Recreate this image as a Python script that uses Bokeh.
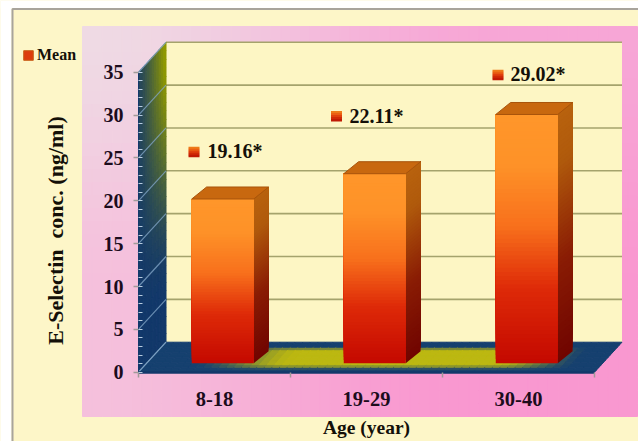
from bokeh.embed import file_html
from bokeh.resources import INLINE
from bokeh.plotting import figure
from bokeh.models import (ColumnDataSource, FixedTicker, Legend, LegendItem, LinearAxis,
                          Range1d)
from bokeh.core.properties import value
import math

# Chart values
age_groups = ["8-18", "19-29", "30-40"]
mean_values = [19.16, 22.11, 29.02]
value_labels = ["19.16*", "22.11*", "29.02*"]
y_ticks = [0, 5, 10, 15, 20, 25, 30, 35]
y_title = "E-Selectin\u00a0\u00a0conc. (ng/ml)"
x_title = "Age (year)"
legend_label = "Mean"

# Layout: pixels per unit, origin of the axes, 3D depth of the box
W, H = 638, 441
CAT_PX, VAL_PX = 152.0, 8.57
X0_PX, Y0_PX = 138.0, 371.7
DX = 27.5 / CAT_PX       # full box depth in category units
DY = 30.0 / VAL_PX       # full box depth in value units
Y_MAX = 35
BAR_W = 62 / CAT_PX
BAR_FRONT, BAR_BACK = 0.3, 0.7   # bar depth within the box

SERIF = "Liberation Serif"

p = figure(width=W, height=H, output_backend="svg", toolbar_location=None,
           x_range=Range1d(-X0_PX / CAT_PX, (W - X0_PX) / CAT_PX),
           y_range=Range1d((Y0_PX - H) / VAL_PX, Y0_PX / VAL_PX),
           min_border=0, min_border_left=0, min_border_right=0,
           min_border_top=0, min_border_bottom=0,
           background_fill_color="#fdf6c8", outline_line_color=None)
p.grid.visible = False
p.extra_x_ranges["px"] = Range1d(0, W)
p.extra_y_ranges["px"] = Range1d(H, 0)


def hex2rgb(c):
    return tuple(int(c[i:i + 2], 16) for i in (1, 3, 5))


def mix(a, b, t):
    t = max(0.0, min(1.0, t))
    ra, rb = hex2rgb(a), hex2rgb(b)
    return "#%02x%02x%02x" % tuple(round(ra[i] + (rb[i] - ra[i]) * t) for i in range(3))


def ramp(stops, t):
    for (t0, c0), (t1, c1) in zip(stops, stops[1:]):
        if t <= t1:
            return mix(c0, c1, (t - t0) / (t1 - t0))
    return stops[-1][1]


def smooth(a, b, t):
    s = max(0.0, min(1.0, (t - a) / (b - a)))
    return s * s * (3 - 2 * s)


def cells(xs, ys, colors):
    p.patches(xs, ys, fill_color=colors, line_color=colors, line_width=1)


# White page edge and grey frame
p.quad(left=[0, 0], right=[11, W], top=[0, 0], bottom=[H, 8], x_range_name="px", y_range_name="px",
       fill_color="white", line_color=None)
p.line([12, 12, W], [H, 8.5, 8.5], x_range_name="px", y_range_name="px", line_color="#a8a49c", line_width=2)

# Pink panel behind the plot
PANEL = (82, 637, 26, 416)
lefts, rights, tops, bottoms, fills = [], [], [], [], []
NX, NY = 56, 30
for i in range(NX):
    for j in range(NY):
        u, v = (i + .5) / NX, (j + .5) / NY
        top_c = mix("#efdae4", "#f7a6d6", smooth(0, .75, u))
        bot_c = mix("#f5c0dc", "#f998d0", smooth(0, .7, u))
        fills.append(mix(top_c, bot_c, smooth(0, .7, v)))
        lefts.append(PANEL[0] + (PANEL[1] - PANEL[0]) * i / NX)
        rights.append(PANEL[0] + (PANEL[1] - PANEL[0]) * (i + 1) / NX)
        tops.append(PANEL[2] + (PANEL[3] - PANEL[2]) * j / NY)
        bottoms.append(PANEL[2] + (PANEL[3] - PANEL[2]) * (j + 1) / NY)
p.quad(left=lefts, right=rights, top=tops, bottom=bottoms, x_range_name="px", y_range_name="px",
       fill_color=fills, line_color=fills, line_width=1)

n_cat = len(age_groups)

# Back wall of the box with its gridlines
p.quad(left=[DX], right=[n_cat + DX], bottom=[DY], top=[Y_MAX + DY], fill_color="#fdf6c4", line_color=None)
grid_vals = [t for t in y_ticks if t > 0]
p.segment([DX] * len(grid_vals), [t + DY for t in grid_vals], [n_cat + DX] * len(grid_vals),
          [t + DY for t in grid_vals], line_color="#a5a36c", line_width=1.6)

# Left wall
xs, ys, cs = [], [], []
NU, NV = 12, 35
for i in range(NU):
    for j in range(NV):
        u0, u1 = i / NU, (i + 1) / NU
        v0, v1 = Y_MAX * j / NV, Y_MAX * (j + 1) / NV
        xs.append([u0 * DX, u1 * DX, u1 * DX, u0 * DX])
        ys.append([v0 + u0 * DY, v0 + u1 * DY, v1 + u1 * DY, v1 + u0 * DY])
        um, vm = (u0 + u1) / 2, (v0 + v1) / 2 / Y_MAX
        cs.append(mix("#12386a", "#8f9800", (.12 + .95 * um ** 1.3) * smooth(.15, 1, vm)))
cells(xs, ys, cs)
p.segment([0] * len(y_ticks), y_ticks, [DX] * len(y_ticks), [t + DY for t in y_ticks],
          line_color="#7fa3c4", line_width=1.2, line_alpha=.8)

# Floor
xs, ys, cs = [], [], []
NU, NV = 60, 12
for i in range(NU):
    for j in range(NV):
        u0, u1 = n_cat * i / NU, n_cat * (i + 1) / NU
        w0, w1 = j / NV, (j + 1) / NV
        xs.append([u0 + w0 * DX, u1 + w0 * DX, u1 + w1 * DX, u0 + w1 * DX])
        ys.append([w0 * DY, w0 * DY, w1 * DY, w1 * DY])
        um, wm = (u0 + u1) / 2, (w0 + w1) / 2
        t = smooth(.3, .95, um) * (1 - smooth(2.3, 2.85, um)) * smooth(.08, .28, wm) * (1 - smooth(.74, .86, wm))
        cs.append(mix("#15406f", "#bcb810", t))
cells(xs, ys, cs)
p.segment([0], [0], [DX], [DY], line_color="#7fa3c4", line_width=1.2)

# Bars: front face, side face, top face
FRONT = [(0, "#c40800"), (.3, "#de2a08"), (.55, "#f8701c"), (.8, "#fe9228"), (1, "#ff962a")]
SIDE = [(0, "#700400"), (.4, "#8a1c04"), (.8, "#b05a0c"), (1, "#b8620e")]
BAND = 60
for k, val in enumerate(mean_values):
    cx = k + .5 + BAR_FRONT * DX
    x_l, x_r = cx - BAR_W / 2, cx + BAR_W / 2
    depth_x = (BAR_BACK - BAR_FRONT) * DX * 1.35
    depth_y = (BAR_BACK - BAR_FRONT) * DY
    front_bottom = BAR_FRONT * DY
    # strips overpaint upward so no seams show
    for s in range(BAND):
        t0 = s / BAND
        y0 = front_bottom + val * t0
        y_top = front_bottom + val
        p.patch([x_r, x_r + depth_x, x_r + depth_x, x_r],
                [y0, y0 + depth_y, y_top + depth_y, y_top],
                fill_color=ramp(SIDE, t0 + .5 / BAND), line_color=None)
    for s in range(BAND):
        t0 = s / BAND
        p.quad(left=[x_l], right=[x_r], bottom=[front_bottom + val * t0], top=[front_bottom + val],
               fill_color=ramp(FRONT, t0 + .5 / BAND), line_color=None)
    y_top = front_bottom + val
    p.patch([x_l, x_r, x_r + depth_x, x_l + depth_x],
            [y_top, y_top, y_top + depth_y, y_top + depth_y],
            fill_color="#c8680f", line_color="#a8540c", line_width=1)

# Value labels with their keys, each hand-placed above its bar
label_dx = [-7 / CAT_PX, -17 / CAT_PX, -8 / CAT_PX]
key_dx = [-20.5 / CAT_PX, -30 / CAT_PX, -20.5 / CAT_PX]
label_dy = [56.5 / VAL_PX, 67 / VAL_PX, 49 / VAL_PX]
src = ColumnDataSource(dict(
    x=[i + .5 + d for i, d in enumerate(label_dx)],
    y=[v + d for v, d in zip(mean_values, label_dy)],
    t=value_labels))
p.text("x", "y", text="t", source=src, text_font=value(SERIF), text_font_style="bold",
       text_font_size="20px", text_color="#141008", text_baseline="middle", text_align="left")
for i, (d, v, dy) in enumerate(zip(key_dx, mean_values, label_dy)):
    for off, col in zip((-3.5, -1.5, .5, 2.5, 4.5), ("#ee7a18", "#ea5f12", "#e0400c", "#d02a06", "#c01a04")):
        p.rect([i + .5 + d], [v + dy - off / VAL_PX], width=11, height=2.4, width_units="screen",
               height_units="screen", fill_color=col, line_color=None)

# Axes sit on the front edges of the box
p.yaxis.fixed_location = 0
p.yaxis.ticker = FixedTicker(ticks=y_ticks, minor_ticks=list(range(0, Y_MAX + 1)))
p.yaxis.bounds = (0, Y_MAX)
p.yaxis.axis_line_color = "#12386a"
p.yaxis.axis_line_width = 1
p.yaxis.major_tick_line_color = "#a09a98"
p.yaxis.major_tick_line_width = 1.5
p.yaxis.major_tick_out = 5
p.yaxis.major_tick_in = 0
p.yaxis.minor_tick_line_color = "#b8cde0"
p.yaxis.minor_tick_in = 4
p.yaxis.minor_tick_out = 0
p.yaxis.major_label_standoff = 10
p.yaxis.major_label_text_font = SERIF
p.yaxis.major_label_text_font_style = "bold"
p.yaxis.major_label_text_font_size = "20px"
p.yaxis.major_label_text_color = "#1c0c1c"

p.xaxis.fixed_location = 0
p.xaxis.ticker = FixedTicker(ticks=list(range(n_cat + 1)), minor_ticks=[])
p.xaxis.bounds = (0, n_cat)
p.xaxis.axis_line_color = "#12386a"
p.xaxis.axis_line_width = 2.5
p.xaxis.major_tick_line_color = "#a09a98"
p.xaxis.major_tick_line_width = 1.5
p.xaxis.major_tick_out = 5
p.xaxis.major_tick_in = 0
p.xaxis.major_label_text_font_size = "0px"
p.xaxis.major_label_text_color = None

centers = [i + .5 for i in range(n_cat)]
cat_axis = LinearAxis(ticker=FixedTicker(ticks=centers, minor_ticks=[]),
                      major_label_overrides={c: g for c, g in zip(centers, age_groups)},
                      fixed_location=0, axis_line_color=None, major_tick_line_color=None,
                      minor_tick_line_color=None, major_label_standoff=14,
                      major_label_text_font=SERIF, major_label_text_font_style="bold",
                      major_label_text_font_size="20.5px", major_label_text_color="#1c0c1c")
p.add_layout(cat_axis, "below")

# Axis titles
p.text([55], [230], text=[y_title], angle=[math.pi / 2], x_range_name="px", y_range_name="px",
       text_font=value(SERIF), text_font_style="bold", text_font_size="22px", text_color="#141008",
       text_align="center", text_baseline="middle")
p.text([366], [427], text=[x_title], x_range_name="px", y_range_name="px",
       text_font=value(SERIF), text_font_style="bold", text_font_size="19.5px", text_color="#141008",
       text_align="center", text_baseline="middle")

# Legend in the upper-left corner
key = p.quad(left=[-99], right=[-98.9], bottom=[-99], top=[-98.9], fill_color="#dc3c0c", line_color="#c86018")
legend = Legend(items=[LegendItem(label=legend_label, renderers=[key])], location=(22, H - 64),
                background_fill_alpha=0, border_line_color=None, padding=0, margin=0, spacing=0,
                glyph_width=12, glyph_height=12, label_standoff=3, label_text_font=SERIF,
                label_text_font_style="bold", label_text_font_size="16px", label_text_color="#141008",
                label_height=14)
p.add_layout(legend, "center")

open("out.html", "w").write(file_html(p, INLINE))
